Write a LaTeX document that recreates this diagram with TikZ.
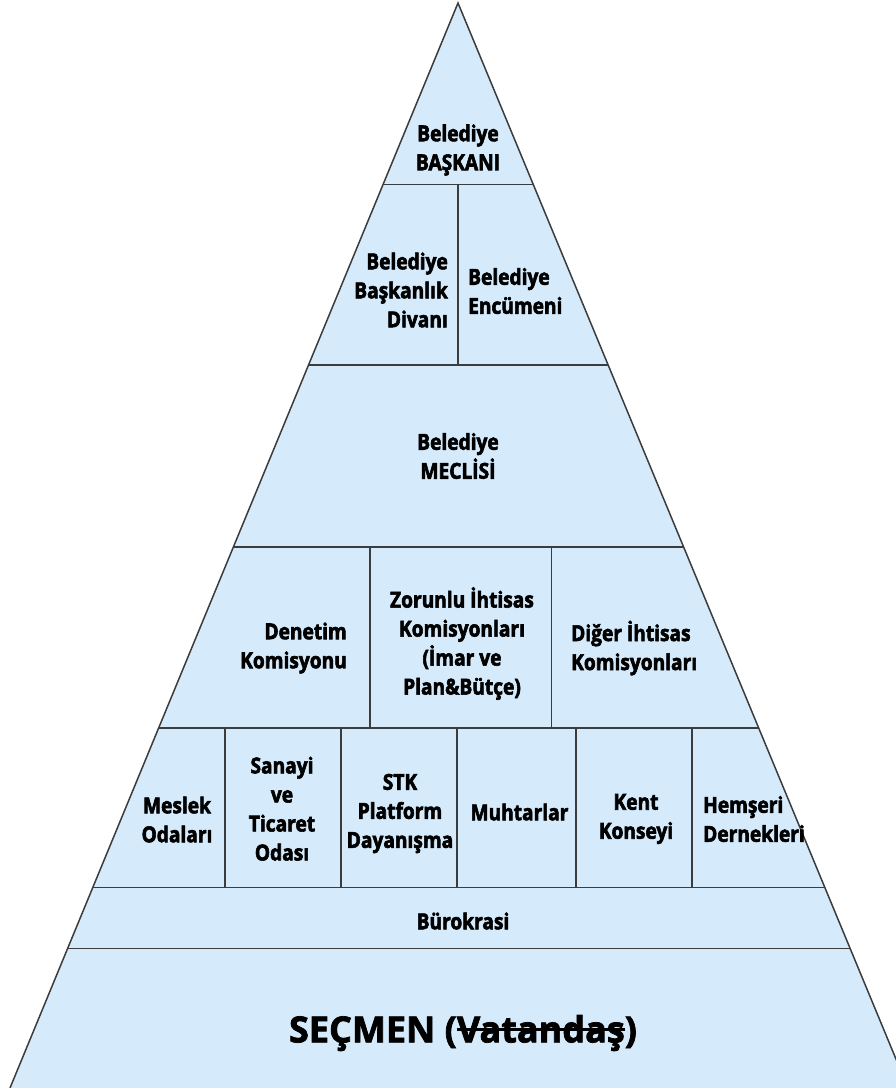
\documentclass[tikz,border=0pt]{standalone}
\usepackage{fontspec}
\setmainfont{Open Sans}[BoldFeatures={FakeBold=2}]
\newfontfamily\condf{Open Sans}[FakeStretch=0.87, BoldFeatures={FakeBold=2.6}]
\newcommand{\strk}[1]{\leavevmode\setbox0\hbox{#1}\rlap{\rule[0.6ex]{\wd0}{2.2pt}}\box0}
\usetikzlibrary{calc}
\definecolor{fillblue}{RGB}{213,234,250}
\definecolor{edgegray}{RGB}{60,60,60}
\tikzset{
  lbl/.style={font=\condf\bfseries\fontsize{22}{29}\selectfont, align=center, inner sep=0pt, text=black},
  lblr/.style={lbl, align=right, anchor=east},
  lbll/.style={lbl, align=left, anchor=west},
  big/.style={font=\bfseries\fontsize{36}{40}\selectfont, inner sep=0pt, text=black},
  sep/.style={draw=edgegray, line width=1.5pt}
}
\begin{document}
\begin{tikzpicture}[x=1pt,y=-1pt]
\useasboundingbox (0,0) rectangle (896,1088);
\fill[white] (0,0) rectangle (896,1088);
\coordinate (A) at (458,3);
\coordinate (L) at (10,1088);
\coordinate (R) at (908,1088);
\fill[fillblue] (A) -- (L) -- (R) -- cycle;
% horizontal separators
\foreach \h/\n in {184.5/1, 365/2, 547/3, 728/4, 887.5/5, 948.5/6} {
  \draw[sep] ($(A)!{(\h-3)/1085}!(L)$) coordinate (l\n) -- ($(A)!{(\h-3)/1085}!(R)$) coordinate (r\n);
}
% vertical separators
\draw[sep] (458,184.5) -- (458,365);
\draw[sep] (370,547) -- (370,728);
\draw[sep] (551.5,547) -- (551.5,728);
\foreach \x in {225,341,457,576,692} {
  \draw[sep] (\x,728) -- (\x,887.5);
}
% outline
\draw[draw=edgegray, line width=1.5pt, line join=miter] (L) -- (A) -- (R);
% labels
\node[lbl] (baskan) at (458,150) {Belediye\\BAŞKANI};
\node[lblr] (divan) at (448,290) {Belediye\\Başkanlık\\Divanı};
\node[lbll] (encumen) at (468,291) {Belediye\\Encümeni};
\node[lbl] (meclis) at (458,456) {Belediye\\MECLİSİ};
\node[lblr] (denetim) at (347,648) {Denetim\\Komisyonu};
\node[lbl] (zorunlu) at (462,643.5) {Zorunlu İhtisas\\Komisyonları\\(İmar ve\\Plan\&Bütçe)};
\node[lbll] (diger) at (571,648) {Diğer İhtisas\\Komisyonları};
\node[lbl] (meslek) at (177,819.5) {Meslek\\Odaları};
\node[lbl] (sanayi) at (282,808.7) {Sanayi\\ve\\Ticaret\\Odası};
\node[lbl] (stk) at (400,813.5) {STK\\Platform\\Dayanışma};
\node[lbl] (muhtar) at (519.5,812) {Muhtarlar};
\node[lbl] (kent) at (636,819) {Kent\\Konseyi};
\node[lbll] (hemseri) at (703,819) {Hemşeri\\Dernekleri};
\node[lbl] (burokrasi) at (463,921) {Bürokrasi};
\node[big] (secmen) at (463,1033) {SEÇMEN (\strk{Vatandaş})};
\end{tikzpicture}
\end{document}
